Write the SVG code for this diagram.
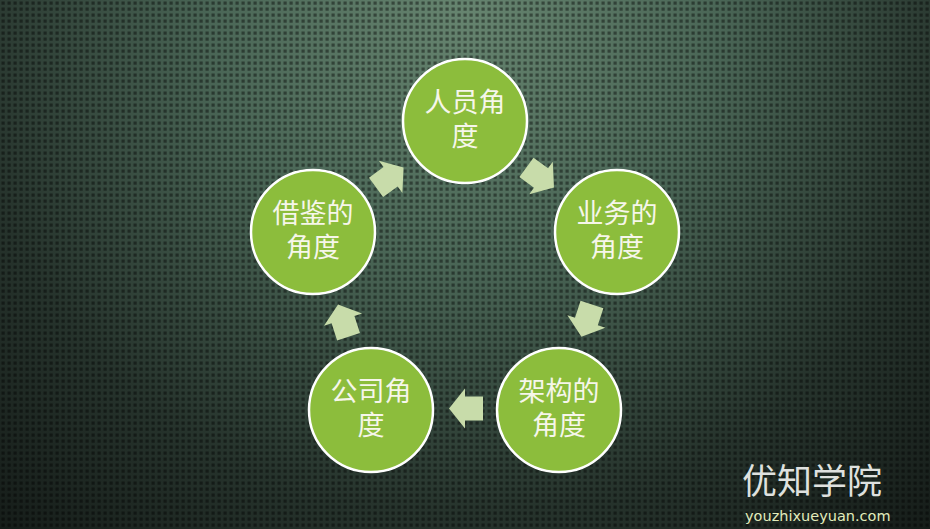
<svg xmlns="http://www.w3.org/2000/svg" width="930" height="529" viewBox="0 0 930 529">
  <defs>
    <radialGradient id="bg" cx="465" cy="10" r="720" gradientUnits="userSpaceOnUse">
      <stop offset="0" stop-color="#66846f"/>
      <stop offset="0.35" stop-color="#4a6656"/>
      <stop offset="0.7" stop-color="#26332c"/>
      <stop offset="1" stop-color="#141a17"/>
    </radialGradient>
    <pattern id="dots" x="0" y="0" width="6" height="6" patternUnits="userSpaceOnUse">
      <rect x="1.5" y="1.5" width="3.2" height="3.2" fill="#000" fill-opacity="0.42"/>
    </pattern>
    <path id="arr" d="M17,0 L1,-20 L1,-12 L-17,-12 L-17,12 L1,12 L1,20 Z"/>
  </defs>
  <style>
    .node circle { fill: #8cbd3c; stroke: #ffffff; stroke-width: 2.5; }
    .node text { font-family: "Liberation Sans", "Noto Sans CJK SC", sans-serif; font-size: 27px; fill: #f6f6ea; text-anchor: middle; }
    .conn use { fill: #c8dcaa; }
  </style>
  <rect width="930" height="529" fill="url(#bg)"/>
  <rect width="930" height="529" fill="url(#dots)"/>

  <g id="connectors" class="conn">
    <use href="#arr" transform="translate(540.2,177.4) rotate(36)"/>
    <use href="#arr" transform="translate(586.7,320.6) rotate(108)"/>
    <use href="#arr" transform="translate(466,408.5) rotate(180)"/>
    <use href="#arr" transform="translate(343.3,320.6) rotate(252)"/>
    <use href="#arr" transform="translate(389.8,177.4) rotate(324)"/>
  </g>

  <g id="node-renyuan" class="node">
    <circle cx="465" cy="121" r="62"/>
    <text x="465" y="111.5">人员角</text>
    <text x="465" y="145.5">度</text>
  </g>
  <g id="node-yewu" class="node">
    <circle cx="617" cy="232" r="62"/>
    <text x="617" y="222.5">业务的</text>
    <text x="617" y="256.5">角度</text>
  </g>
  <g id="node-jiagou" class="node">
    <circle cx="559" cy="410" r="62"/>
    <text x="559" y="400.5">架构的</text>
    <text x="559" y="434.5">角度</text>
  </g>
  <g id="node-gongsi" class="node">
    <circle cx="371" cy="410" r="62"/>
    <text x="371" y="400.5">公司角</text>
    <text x="371" y="434.5">度</text>
  </g>
  <g id="node-jiejian" class="node">
    <circle cx="313" cy="232" r="62"/>
    <text x="313" y="222.5">借鉴的</text>
    <text x="313" y="256.5">角度</text>
  </g>

  <g id="watermark">
    <text x="742" y="494" font-family="Noto Sans CJK SC, sans-serif" font-size="35" fill="#dfe1df">优知学院</text>
    <text x="745" y="521" font-family="DejaVu Sans, sans-serif" font-size="14.5" fill="#e2ecbc">youzhixueyuan.com</text>
  </g>
</svg>
